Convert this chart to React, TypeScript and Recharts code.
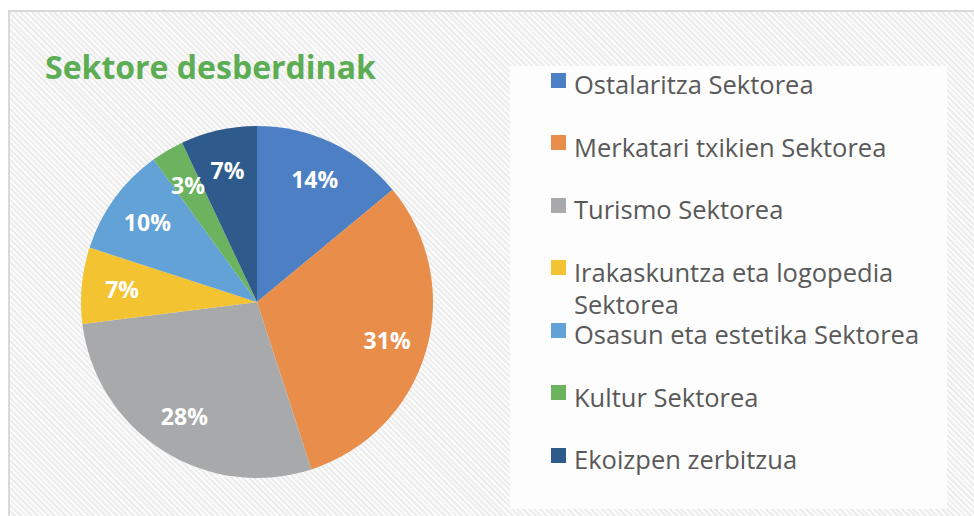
import { PieChart, Pie, Cell, Legend } from 'recharts';

const categories = [
    'Ostalaritza Sektorea',
    'Merkatari txikien Sektorea',
    'Turismo Sektorea',
    'Irakaskuntza eta logopedia Sektorea',
    'Osasun eta estetika Sektorea',
    'Kultur Sektorea',
    'Ekoizpen zerbitzua',
];
const shares = [14, 31, 28, 7, 10, 3, 7];
const colors = ['#4d7fc5', '#e98d4a', '#a7a9aa', '#f4c331', '#62a2d6', '#6cb35f', '#2f5b8c'];

const data = categories.map((name, i) => ({ name, value: shares[i] }));

const RAD = Math.PI / 180;

function renderLabel(props: any) {
    const { cx, cy, midAngle, outerRadius, value } = props;
    const r = outerRadius * 0.77;
    const x = cx + r * Math.cos(-midAngle * RAD);
    const y = cy + r * Math.sin(-midAngle * RAD);
    return (
        <text
            x={x}
            y={y}
            fill="#ffffff"
            textAnchor="middle"
            dominantBaseline="central"
            style={{ fontFamily: '"Open Sans", sans-serif', fontSize: 23, fontWeight: 700 }}
        >
            {`${value}%`}
        </text>
    );
}

// legend keeps the data order (recharts would sort it by name)
function LegendBox() {
    return (
        <div
            style={{
                width: 437,
                height: 443,
                background: '#fdfdfd',
                paddingTop: 4,
                boxSizing: 'border-box',
                fontFamily: '"Open Sans", sans-serif',
            }}
        >
            {categories.map((name, i) => (
                <div key={name} style={{ position: 'relative', height: 62.5 }}>
                    <div
                        style={{
                            position: 'absolute',
                            left: 41,
                            top: 2.5,
                            width: 15,
                            height: 15,
                            background: colors[i],
                        }}
                    />
                    <div
                        style={{
                            position: 'absolute',
                            left: 64,
                            top: -2,
                            width: 362,
                            fontSize: 25.5,
                            lineHeight: '32px',
                            color: '#595959',
                        }}
                    >
                        {name}
                    </div>
                </div>
            ))}
        </div>
    );
}

export default function App() {
    return (
        <div style={{ position: 'absolute', left: 0, top: 0, width: 974, height: 516, overflow: 'hidden', background: '#ffffff' }}>
            <div
                style={{
                    position: 'absolute',
                    left: 8,
                    top: 10,
                    width: 980,
                    height: 520,
                    borderTop: '2px solid #d9d9d9',
                    borderLeft: '2px solid #d9d9d9',
                    background: 'repeating-linear-gradient(45deg, #fbfbfb 0px, #fbfbfb 2px, #ededed 2px, #ededed 4px)',
                }}
            />
            <div
                style={{
                    position: 'absolute',
                    left: 45,
                    top: 51,
                    fontFamily: '"Open Sans", sans-serif',
                    fontWeight: 700,
                    fontSize: 32,
                    lineHeight: '32px',
                    color: '#5cad53',
                    whiteSpace: 'nowrap',
                }}
            >
                Sektore desberdinak
            </div>
            <div style={{ position: 'absolute', left: 0, top: 0 }}>
                <PieChart width={974} height={516} margin={{ top: 0, right: 0, bottom: 0, left: 0 }}>
                    <Pie
                        data={data}
                        dataKey="value"
                        nameKey="name"
                        cx={257}
                        cy={302}
                        outerRadius={176}
                        startAngle={90}
                        endAngle={-270}
                        stroke="none"
                        label={renderLabel}
                        labelLine={false}
                        isAnimationActive={false}
                    >
                        {data.map((d, i) => (
                            <Cell key={d.name} fill={colors[i]} />
                        ))}
                    </Pie>
                    <Legend
                        layout="vertical"
                        content={<LegendBox />}
                        wrapperStyle={{ position: 'absolute', left: 510, top: 66, width: 437, height: 443 }}
                    />
                </PieChart>
            </div>
        </div>
    );
}
